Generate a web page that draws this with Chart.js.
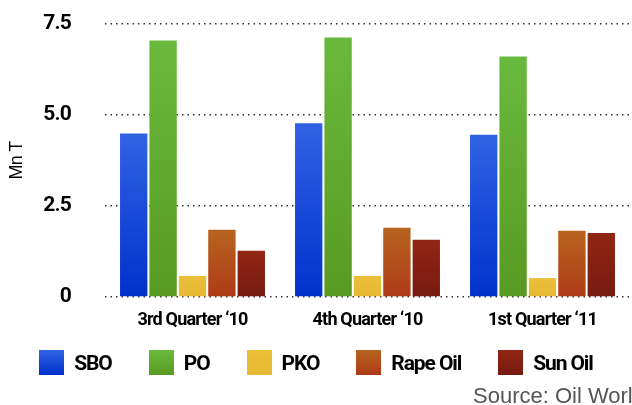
<!DOCTYPE html>
<html>
<head>
<meta charset="utf-8">
<script src="https://cdn.jsdelivr.net/npm/chart.js@4.4.1/dist/chart.umd.min.js"></script>
<style>
  html, body { margin: 0; padding: 0; background: #fff; overflow: hidden; }
  #wrap { position: relative; width: 632px; height: 405px; overflow: hidden; }
  #oilchart { position: absolute; left: 0; top: 0; }
  #legend {
    position: absolute; left: 0; top: 350px; width: 632px;
    display: flex; justify-content: center; gap: 37px;
    font-family: Roboto, sans-serif; font-weight: bold; font-size: 21px;
    letter-spacing: -1.1px; color: #000;
  }
  #legend .item { display: flex; align-items: center; height: 25px; }
  #legend .box { width: 25px; height: 25px; margin-right: 10px; }
  #source {
    position: absolute; left: 473px; top: 383px; white-space: nowrap;
    font-family: 'Liberation Sans', Arial, sans-serif; font-size: 22px; color: #555;
  }
</style>
</head>
<body>
<div id="wrap">
  <canvas id="oilchart" width="632" height="405"></canvas>
  <div id="legend"></div>
  <div id="source">Source: Oil World</div>
</div>
<script>
const quarters = ["3rd Quarter \u201810", "4th Quarter \u201810", "1st Quarter \u201811"];
const oils = ["SBO", "PO", "PKO", "Rape Oil", "Sun Oil"];
const sbo = [4.49, 4.77, 4.46];
const po = [7.05, 7.13, 6.61];
const pko = [0.58, 0.58, 0.52];
const rapeOil = [1.85, 1.90, 1.82];
const sunOil = [1.27, 1.57, 1.76];
const yTicks = [0, 2.5, 5.0, 7.5];

// top colour, bottom colour
const shades = [
    ['#3063e4', '#0031cc'],
    ['#69b93d', '#589a21'],
    ['#ebbf3a', '#e6b833'],
    ['#b7641f', '#ae3a17'],
    ['#922614', '#761a10']
];

const series = [sbo, po, pko, rapeOil, sunOil];

function barFill(i) {
    return function(context) {
        const chart = context.chart;
        if (context.type !== 'data' || !chart.chartArea) return shades[i][1];
        const y = chart.scales.y;
        const top = y.getPixelForValue(context.raw);
        const bottom = y.getPixelForValue(0);
        const g = chart.ctx.createLinearGradient(0, top, 0, bottom);
        g.addColorStop(0, shades[i][0]);
        g.addColorStop(1, shades[i][1]);
        return g;
    };
}

// tighter letters to get closer to the condensed face
const tightText = {
    id: 'tightText',
    beforeDraw(chart) { chart.ctx.letterSpacing = '-0.8px'; }
};

const chart = new Chart(document.getElementById('oilchart').getContext('2d'), {
    type: 'bar',
    data: {
        labels: quarters,
        datasets: oils.map((name, i) => ({
            label: name,
            data: series[i],
            backgroundColor: barFill(i),
            borderWidth: 0,
            barPercentage: 0.93,
            categoryPercentage: 0.84
        }))
    },
    options: {
        responsive: false,
        animation: false,
        layout: { padding: { top: 24, right: 2, bottom: 68, left: 0 } },
        plugins: {
            tooltip: { enabled: false },
            legend: { display: false }
        },
        scales: {
            x: {
                grid: { display: false },
                border: { display: false },
                ticks: {
                    color: '#000',
                    padding: 5,
                    font: { family: 'Roboto', size: 18, weight: 'bold' }
                },
                afterFit(scale) {
                    scale.height = 40;
                    scale.paddingLeft = 0;
                    scale.paddingRight = 0;
                }
            },
            y: {
                min: 0,
                max: 7.5,
                afterBuildTicks(scale) { scale.ticks = yTicks.map(v => ({ value: v })); },
                grid: { color: '#333', lineWidth: 1.5, drawTicks: false },
                border: { display: false, dash: [1.5, 4] },
                ticks: {
                    color: '#000',
                    padding: 34,
                    font: { family: 'Roboto', size: 21, weight: 'bold' },
                    callback: v => v === 0 ? '0' : v.toFixed(1)
                },
                title: {
                    display: true,
                    text: 'Mn T',
                    color: '#000',
                    padding: { top: 6, bottom: 0 },
                    font: { family: "'Liberation Sans', Arial, sans-serif", size: 18 }
                },
                afterFit(scale) {
                    scale.width = 105;
                    scale.paddingTop = 0;
                    scale.paddingBottom = 0;
                }
            }
        }
    },
    plugins: [tightText]
});

// html legend from the chart's datasets
const legendEl = document.getElementById('legend');
chart.data.datasets.forEach((ds, i) => {
    const item = document.createElement('div');
    item.className = 'item';
    const box = document.createElement('span');
    box.className = 'box';
    box.style.background = 'linear-gradient(' + shades[i][0] + ', ' + shades[i][1] + ')';
    const txt = document.createElement('span');
    txt.textContent = ds.label;
    item.appendChild(box);
    item.appendChild(txt);
    legendEl.appendChild(item);
});
</script>
</body>
</html>
